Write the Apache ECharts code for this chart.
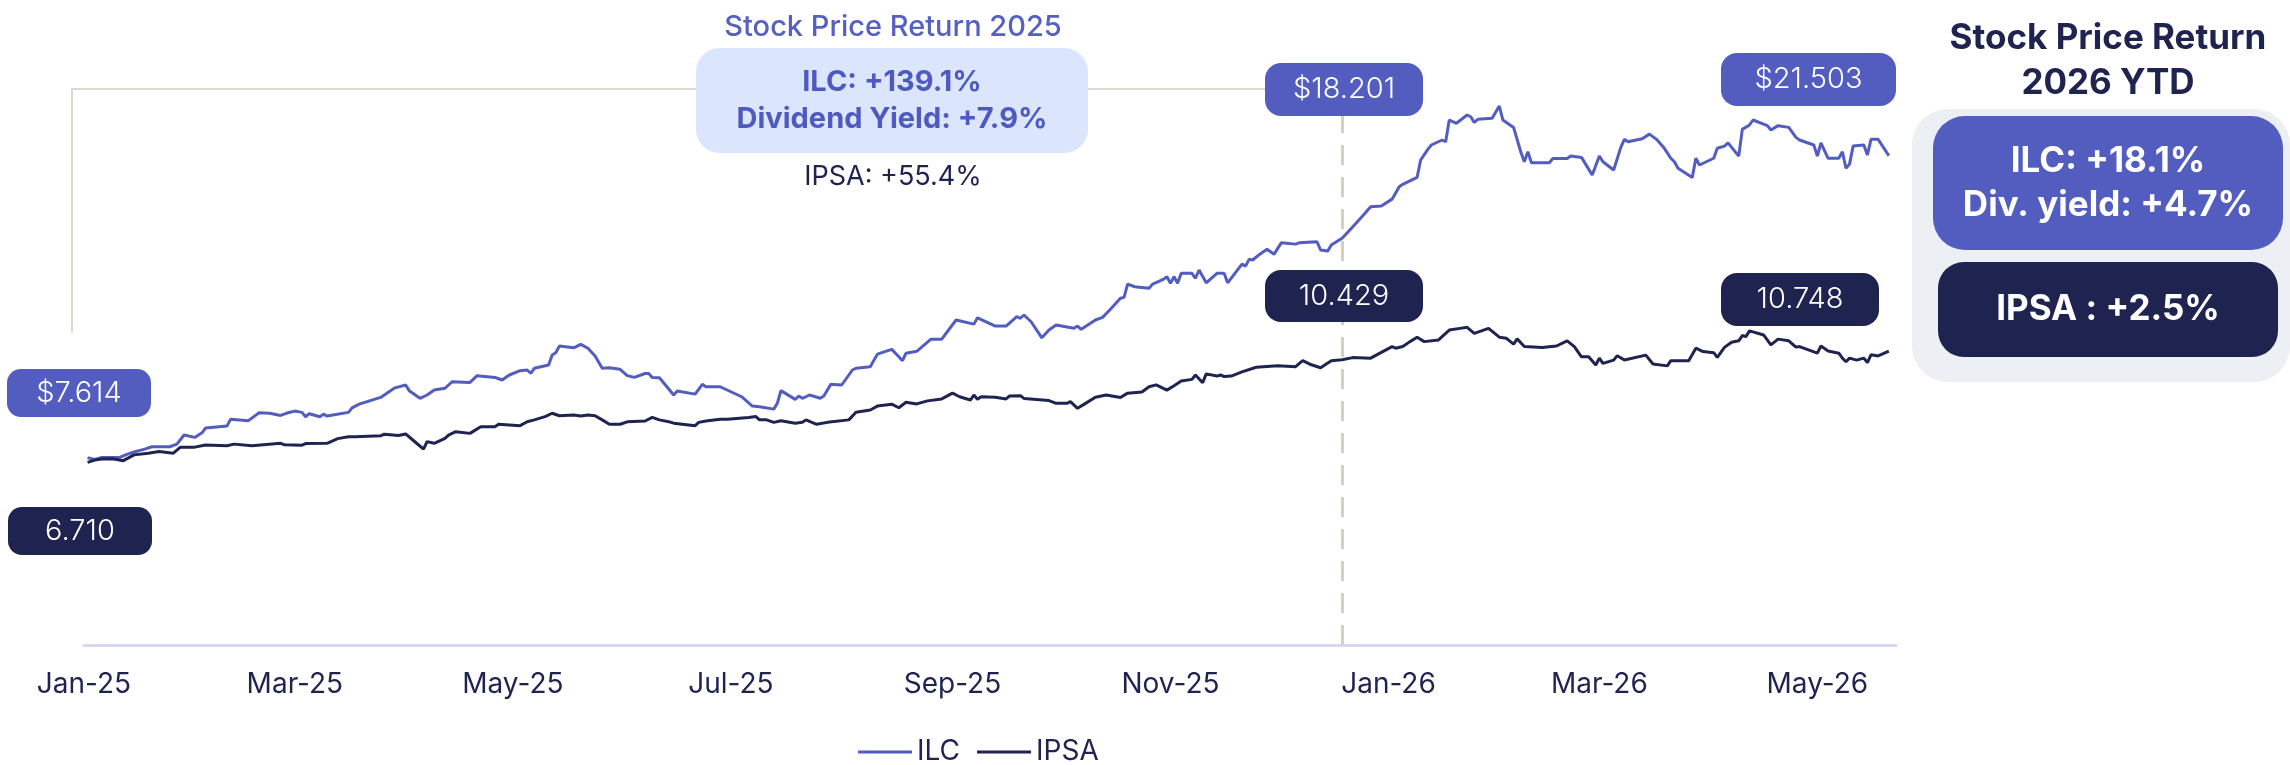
<!DOCTYPE html>
<html>
<head>
<meta charset="utf-8">
<script src="https://cdn.jsdelivr.net/npm/echarts@6/dist/echarts.min.js"></script>
<style>
  html, body { margin: 0; padding: 0; background: #fff; }
  #chart { width: 2290px; height: 765px; }
</style>
</head>
<body>
<div id="chart"></div>
<script>
// ILC share price (CLP) and IPSA index level
const ilcDates = [
  '2025-01-02','2025-01-04','2025-01-06','2025-01-11','2025-01-13','2025-01-15','2025-01-18','2025-01-20','2025-01-25','2025-01-27',
  '2025-01-29','2025-02-01','2025-02-03','2025-02-04','2025-02-10','2025-02-11','2025-02-16','2025-02-19','2025-02-22','2025-02-25',
  '2025-02-27','2025-03-01','2025-03-03','2025-03-04','2025-03-05','2025-03-08','2025-03-09','2025-03-10','2025-03-16','2025-03-17',
  '2025-03-19','2025-03-25','2025-03-29','2025-04-01','2025-04-02','2025-04-05','2025-04-07','2025-04-09','2025-04-12','2025-04-14',
  '2025-04-19','2025-04-21','2025-04-26','2025-04-28','2025-04-30','2025-05-03','2025-05-05','2025-05-06','2025-05-07','2025-05-11',
  '2025-05-12','2025-05-13','2025-05-14','2025-05-18','2025-05-20','2025-05-22','2025-05-24','2025-05-26','2025-05-28','2025-05-31',
  '2025-06-02','2025-06-04','2025-06-07','2025-06-08','2025-06-09','2025-06-11','2025-06-15','2025-06-16','2025-06-21','2025-06-23',
  '2025-06-24','2025-06-28','2025-07-01','2025-07-04','2025-07-07','2025-07-09','2025-07-13','2025-07-14','2025-07-15','2025-07-19',
  '2025-07-20','2025-07-21','2025-07-23','2025-07-26','2025-07-27','2025-07-29','2025-08-01','2025-08-04','2025-08-05','2025-08-09',
  '2025-08-11','2025-08-15','2025-08-17','2025-08-18','2025-08-19','2025-08-22','2025-08-26','2025-08-29','2025-09-02','2025-09-07',
  '2025-09-08','2025-09-13','2025-09-16','2025-09-19','2025-09-20','2025-09-21','2025-09-23','2025-09-26','2025-09-28','2025-09-30',
  '2025-10-05','2025-10-06','2025-10-07','2025-10-11','2025-10-13','2025-10-15','2025-10-18','2025-10-19','2025-10-20','2025-10-22',
  '2025-10-26','2025-10-27','2025-10-30','2025-10-31','2025-11-01','2025-11-02','2025-11-03','2025-11-04','2025-11-07','2025-11-08',
  '2025-11-09','2025-11-11','2025-11-14','2025-11-16','2025-11-17','2025-11-21','2025-11-22','2025-11-23','2025-11-24','2025-11-26',
  '2025-11-28','2025-11-30','2025-12-02','2025-12-06','2025-12-07','2025-12-12','2025-12-13','2025-12-15','2025-12-16','2025-12-19',
  '2025-12-21','2025-12-25','2025-12-27','2025-12-30','2026-01-02','2026-01-04','2026-01-05','2026-01-09','2026-01-10','2026-01-12',
  '2026-01-13','2026-01-16','2026-01-17','2026-01-18','2026-01-20','2026-01-23','2026-01-24','2026-01-25','2026-01-26','2026-01-30',
  '2026-02-01','2026-02-02','2026-02-05','2026-02-07','2026-02-08','2026-02-09','2026-02-10','2026-02-15','2026-02-16','2026-02-20',
  '2026-02-21','2026-02-24','2026-02-27','2026-03-01','2026-03-02','2026-03-05','2026-03-07','2026-03-08','2026-03-09','2026-03-13',
  '2026-03-15','2026-03-17','2026-03-19','2026-03-21','2026-03-22','2026-03-23','2026-03-27','2026-03-28','2026-03-29','2026-04-02',
  '2026-04-03','2026-04-05','2026-04-06','2026-04-09','2026-04-10','2026-04-12','2026-04-13','2026-04-17','2026-04-18','2026-04-20',
  '2026-04-23','2026-04-25','2026-04-26','2026-04-30','2026-05-01','2026-05-02','2026-05-04','2026-05-07','2026-05-08','2026-05-09',
  '2026-05-10','2026-05-11','2026-05-14','2026-05-15','2026-05-16','2026-05-18','2026-05-21'
];
const ilcPrices = [
  7614, 7540, 7630, 7630, 7770, 7880, 8010, 8120, 8120, 8240,
  8660, 8550, 8760, 8980, 9070, 9380, 9320, 9680, 9660, 9560,
  9680, 9760, 9700, 9500, 9640, 9500, 9620, 9530, 9700, 9910,
  10080, 10390, 10830, 10960, 10700, 10350, 10500, 10730, 10810, 11110,
  11080, 11390, 11310, 11190, 11420, 11620, 11650, 11500, 11730, 11880,
  12340, 12440, 12750, 12670, 12830, 12650, 12290, 11730, 11750, 11680,
  11390, 11310, 11490, 11490, 11310, 11290, 10500, 10680, 10540, 10990,
  10880, 10880, 10650, 10420, 9990, 9960, 9850, 10120, 10700, 10300,
  10450, 10350, 10500, 10350, 10450, 11000, 10960, 11650, 11730, 11800,
  12380, 12600, 12260, 12080, 12420, 12510, 13070, 13070, 13950, 13760,
  14050, 13670, 13670, 14100, 14030, 14180, 13870, 13130, 13490, 13720,
  13570, 13670, 13520, 13950, 14070, 14410, 14950, 14990, 15600, 15480,
  15410, 15600, 15820, 15940, 15640, 15940, 15640, 16100, 16100, 15870,
  16250, 15660, 16100, 16100, 15660, 16520, 16430, 16740, 16710, 16980,
  17200, 16980, 17500, 17440, 17500, 17550, 17170, 17120, 17400, 17710,
  18060, 18780, 19160, 19190, 19510, 20080, 20190, 20510, 21310, 21800,
  22000, 22230, 22150, 23150, 23000, 23380, 23300, 23040, 23180, 23230,
  23790, 23150, 22810, 21690, 21230, 21690, 21180, 21180, 21380, 21380,
  21490, 21430, 20620, 21490, 21230, 20850, 21890, 22260, 22150, 22290,
  22500, 22260, 21890, 21390, 21230, 20930, 20510, 21390, 21080, 21390,
  21850, 21950, 22100, 21490, 22720, 22920, 23150, 22890, 22690, 22890,
  22810, 22350, 22230, 22000, 21490, 22100, 21390, 21390, 21690, 20930,
  21120, 21950, 22000, 21540, 22260, 22260, 21503
];

const ipsaDates = [
  '2025-01-02','2025-01-04','2025-01-06','2025-01-09','2025-01-12','2025-01-15','2025-01-19','2025-01-22','2025-01-26','2025-01-28',
  '2025-02-01','2025-02-04','2025-02-10','2025-02-12','2025-02-17','2025-02-25','2025-02-26','2025-03-03','2025-03-04','2025-03-10',
  '2025-03-13','2025-03-16','2025-03-18','2025-03-25','2025-03-26','2025-03-30','2025-04-01','2025-04-03','2025-04-06','2025-04-07',
  '2025-04-09','2025-04-12','2025-04-13','2025-04-15','2025-04-19','2025-04-22','2025-04-26','2025-04-27','2025-05-03','2025-05-05',
  '2025-05-07','2025-05-10','2025-05-12','2025-05-14','2025-05-18','2025-05-20','2025-05-22','2025-05-24','2025-05-26','2025-05-28',
  '2025-05-31','2025-06-02','2025-06-07','2025-06-09','2025-06-11','2025-06-14','2025-06-15','2025-06-21','2025-06-22','2025-06-24',
  '2025-06-28','2025-06-30','2025-07-06','2025-07-08','2025-07-09','2025-07-11','2025-07-13','2025-07-15','2025-07-19','2025-07-21',
  '2025-07-22','2025-07-25','2025-07-28','2025-08-03','2025-08-05','2025-08-09','2025-08-11','2025-08-15','2025-08-17','2025-08-19',
  '2025-08-22','2025-08-25','2025-08-29','2025-09-01','2025-09-03','2025-09-06','2025-09-07','2025-09-08','2025-09-09','2025-09-13',
  '2025-09-16','2025-09-17','2025-09-20','2025-09-21','2025-09-28','2025-09-30','2025-10-03','2025-10-04','2025-10-06','2025-10-08',
  '2025-10-11','2025-10-14','2025-10-18','2025-10-20','2025-10-24','2025-10-26','2025-10-28','2025-10-31','2025-11-02','2025-11-04',
  '2025-11-07','2025-11-08','2025-11-10','2025-11-11','2025-11-14','2025-11-15','2025-11-16','2025-11-18','2025-11-21','2025-11-25',
  '2025-12-01','2025-12-06','2025-12-08','2025-12-10','2025-12-13','2025-12-16','2025-12-19','2025-12-22','2025-12-27','2026-01-02',
  '2026-01-03','2026-01-05','2026-01-07','2026-01-09','2026-01-11','2026-01-15','2026-01-18','2026-01-21','2026-01-23','2026-01-25',
  '2026-01-29','2026-02-01','2026-02-03','2026-02-05','2026-02-06','2026-02-08','2026-02-13','2026-02-17','2026-02-20','2026-02-22',
  '2026-02-24','2026-02-26','2026-02-28','2026-03-01','2026-03-02','2026-03-05','2026-03-06','2026-03-08','2026-03-14','2026-03-16',
  '2026-03-20','2026-03-21','2026-03-26','2026-03-28','2026-03-30','2026-04-02','2026-04-03','2026-04-05','2026-04-07','2026-04-09',
  '2026-04-10','2026-04-11','2026-04-12','2026-04-16','2026-04-18','2026-04-20','2026-04-23','2026-04-25','2026-04-26','2026-05-01',
  '2026-05-02','2026-05-04','2026-05-07','2026-05-08','2026-05-09','2026-05-10','2026-05-12','2026-05-14','2026-05-15','2026-05-16',
  '2026-05-18','2026-05-21'
];
const ipsaLevels = [
  6710, 6790, 6830, 6840, 6770, 6980, 7040, 7100, 7040, 7260,
  7260, 7340, 7310, 7370, 7310, 7400, 7350, 7330, 7390, 7400,
  7570, 7640, 7640, 7670, 7730, 7680, 7740, 7520, 7190, 7460,
  7400, 7580, 7700, 7820, 7760, 8000, 8000, 8090, 8040, 8180,
  8250, 8370, 8490, 8400, 8430, 8390, 8430, 8400, 8250, 8090,
  8090, 8180, 8210, 8340, 8250, 8170, 8130, 8040, 8160, 8210,
  8270, 8270, 8340, 8370, 8250, 8250, 8160, 8220, 8130, 8160,
  8250, 8090, 8160, 8250, 8530, 8610, 8750, 8820, 8690, 8890,
  8830, 8940, 9010, 9220, 9090, 8970, 9150, 9000, 9090, 9070,
  9010, 9120, 9130, 9030, 8950, 8850, 8850, 8910, 8670, 8830,
  9070, 9150, 9060, 9220, 9260, 9450, 9520, 9330, 9490, 9660,
  9720, 9880, 9600, 9920, 9840, 9880, 9820, 9840, 9990, 10160,
  10210, 10180, 10400, 10270, 10140, 10400, 10429, 10510, 10490, 10910,
  10850, 10910, 11090, 11250, 11090, 11150, 11510, 11570, 11610, 11390,
  11570, 11250, 11210, 11000, 11190, 10910, 10880, 10930, 11120, 10910,
  10540, 10540, 10240, 10490, 10300, 10420, 10580, 10420, 10600, 10280,
  10210, 10400, 10400, 10850, 10730, 10690, 10520, 10880, 11070, 11120,
  11310, 11270, 11480, 11330, 10970, 11180, 11120, 10890, 10910, 10670,
  10930, 10750, 10670, 10490, 10360, 10490, 10420, 10490, 10330, 10610,
  10570, 10748
];

const tickDates = ['2025-01-01','2025-03-01','2025-05-01','2025-07-01','2025-09-01','2025-11-01','2026-01-01','2026-03-01','2026-05-01'];
const tickLabels = ['Jan-25','Mar-25','May-25','Jul-25','Sep-25','Nov-25','Jan-26','Mar-26','May-26'];
const yearEndDate = '2025-12-19';

const BLUE = '#525dbf';
const NAVY = '#1f2350';
const FONT = 'Inter';

function toTime(s) {
  const p = s.split('-').map(Number);
  return new Date(p[0], p[1] - 1, p[2]).getTime();
}
const tickTimes = tickDates.map(toTime);

// rounded box with centred text
function pill(x, y, w, h, r, fill, lines, font, color, lineGap) {
  const children = [{
    type: 'rect',
    shape: { x: x, y: y, width: w, height: h, r: r },
    style: { fill: fill },
    z: 100
  }];
  const cy = y + h / 2 - (lines.length - 1) * lineGap / 2;
  lines.forEach(function (t, i) {
    children.push({
      type: 'text',
      z: 101,
      style: {
        text: t, x: x + w / 2, y: cy + i * lineGap,
        font: font, fill: color, textAlign: 'center', textVerticalAlign: 'middle'
      }
    });
  });
  return { type: 'group', children: children };
}

function label(text, x, y, font, color) {
  return {
    type: 'text',
    z: 101,
    style: { text: text, x: x, y: y, font: font, fill: color, textAlign: 'center', textVerticalAlign: 'middle' }
  };
}

const chart = echarts.init(document.getElementById('chart'));

const option = {
  backgroundColor: '#fff',
  animation: false,
  textStyle: { fontFamily: FONT },
  grid: { left: 84, right: 394, top: 95, bottom: 120, outerBoundsMode: 'none' },
  legend: {
    left: 853,
    top: 733,
    itemWidth: 54,
    itemHeight: 3,
    itemGap: 17,
    icon: 'rect',
    textStyle: { color: NAVY, fontSize: 28, fontFamily: FONT },
    data: ['ILC', 'IPSA']
  },
  // dates as timestamps on a value axis so the month ticks can be placed exactly
  xAxis: {
    type: 'value',
    min: toTime('2025-01-01'),
    max: toTime('2026-05-23'),
    splitLine: { show: false },
    axisTick: { show: false },
    axisLine: { show: true, onZero: false, lineStyle: { color: '#d5d9ef', width: 3 } },
    axisLabel: {
      customValues: tickTimes,
      showMinLabel: true,
      showMaxLabel: true,
      color: NAVY,
      fontSize: 28,
      fontFamily: FONT,
      margin: 26,
      formatter: function (v) {
        const i = tickTimes.indexOf(v);
        return i >= 0 ? tickLabels[i] : '';
      }
    }
  },
  yAxis: [
    { type: 'value', min: -1000, max: 24300, show: false, splitLine: { show: false } },
    { type: 'value', min: 80, max: 20040, show: false, splitLine: { show: false } }
  ],
  series: [
    {
      name: 'ILC',
      type: 'line',
      yAxisIndex: 0,
      showSymbol: false,
      symbol: 'none',
      color: BLUE,
      lineStyle: { color: BLUE, width: 3 },
      data: ilcDates.map(function (d, i) { return [toTime(d), ilcPrices[i]]; }),
      markLine: {
        silent: true,
        symbol: 'none',
        label: { show: false },
        lineStyle: { color: '#d6d0bf', width: 3, type: [20, 12] },
        data: [{ xAxis: toTime(yearEndDate) }]
      },
      z: 3
    },
    {
      name: 'IPSA',
      type: 'line',
      yAxisIndex: 1,
      showSymbol: false,
      symbol: 'none',
      color: NAVY,
      lineStyle: { color: NAVY, width: 3 },
      data: ipsaDates.map(function (d, i) { return [toTime(d), ipsaLevels[i]]; }),
      z: 3
    }
  ],
  graphic: [
    // bracket spanning 2025
    {
      type: 'polyline',
      shape: { points: [[72, 333], [72, 89], [1265, 89]] },
      style: { stroke: '#dddad2', lineWidth: 2, fill: null },
      z: 0
    },
    label('Stock Price Return 2025', 893, 27, '500 29px ' + FONT, '#5560c0'),
    pill(696, 48, 392, 105, 24, '#dbe5fc', ['ILC: +139.1%', 'Dividend Yield: +7.9%'], '700 29px ' + FONT, '#4e5abf', 37),
    label('IPSA: +55.4%', 893, 177, '400 27px ' + FONT, NAVY),

    pill(7, 369, 144, 48, 14, BLUE, ['$7.614'], '300 29px ' + FONT, '#fff', 0),
    pill(8, 507, 144, 48, 14, NAVY, ['6.710'], '300 29px ' + FONT, '#fff', 0),
    pill(1265, 63, 158, 53, 16, BLUE, ['$18.201'], '300 29px ' + FONT, '#fff', 0),
    pill(1265, 270, 158, 52, 16, NAVY, ['10.429'], '300 29px ' + FONT, '#fff', 0),
    pill(1721, 53, 175, 53, 16, BLUE, ['$21.503'], '300 29px ' + FONT, '#fff', 0),
    pill(1721, 273, 158, 53, 16, NAVY, ['10.748'], '300 29px ' + FONT, '#fff', 0),

    // 2026 YTD panel
    label('Stock Price Return', 2108, 38, '700 35px ' + FONT, NAVY),
    label('2026 YTD', 2108, 83, '700 35px ' + FONT, NAVY),
    {
      type: 'rect',
      shape: { x: 1912, y: 109, width: 378, height: 273, r: 36 },
      style: { fill: '#eceff3' },
      z: 99
    },
    pill(1933, 116, 350, 134, 32, BLUE, ['ILC: +18.1%', 'Div. yield: +4.7%'], '700 35px ' + FONT, '#fff', 44),
    pill(1938, 262, 340, 95, 26, NAVY, ['IPSA : +2.5%'], '700 35px ' + FONT, '#fff', 0)
  ]
};

chart.setOption(option);
</script>
</body>
</html>
